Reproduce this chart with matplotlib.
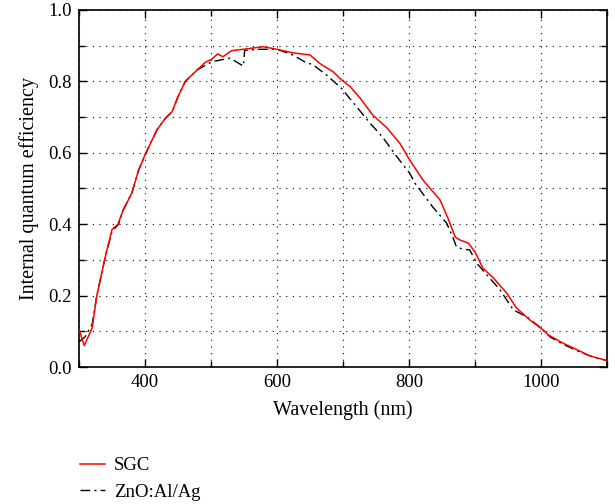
import matplotlib
matplotlib.use("Agg")
import matplotlib.pyplot as plt
from matplotlib.ticker import MultipleLocator

plt.rcParams['font.family'] = ['Liberation Serif', 'DejaVu Serif']

sgc_x = [300, 308, 320, 327, 340, 350, 359, 367, 380, 390, 400, 418, 431, 441, 450,
         461, 479, 491, 501, 510, 518, 531, 549, 579, 600, 624, 650, 665, 685, 698,
         711, 726, 745, 767, 786, 801, 821, 847, 859, 870, 877, 890, 900, 912, 928,
         948, 963, 983, 1003, 1011, 1033, 1055, 1074, 1100]
sgc_y = [0.105, 0.06, 0.11, 0.20, 0.31, 0.385, 0.40, 0.44, 0.487, 0.55, 0.594, 0.664,
         0.697, 0.715, 0.757, 0.80, 0.832, 0.853, 0.862, 0.877, 0.869, 0.886, 0.89,
         0.897, 0.89, 0.88, 0.874, 0.85, 0.827, 0.804, 0.785, 0.753, 0.706, 0.669,
         0.627, 0.58, 0.524, 0.468, 0.417, 0.364, 0.356, 0.347, 0.322, 0.277, 0.249,
         0.207, 0.165, 0.132, 0.104, 0.09, 0.067, 0.048, 0.031, 0.018]

zno_x = [300, 309, 320, 327, 340, 350, 360, 367, 380, 390, 400, 418, 431, 441, 450,
         461, 479, 501, 529, 549, 551, 574, 600, 624, 642, 655, 675, 698, 721, 741,
         760, 782, 801, 809, 836, 857, 867, 872, 882, 892, 903, 918, 938, 958, 979,
         998, 1014, 1033, 1059, 1079, 1100]
zno_y = [0.07, 0.084, 0.12, 0.20, 0.31, 0.38, 0.40, 0.44, 0.487, 0.55, 0.594, 0.664,
         0.697, 0.715, 0.757, 0.80, 0.832, 0.855, 0.865, 0.843, 0.887, 0.89, 0.89,
         0.874, 0.855, 0.846, 0.818, 0.78, 0.728, 0.683, 0.644, 0.588, 0.543, 0.515,
         0.448, 0.403, 0.361, 0.336, 0.33, 0.328, 0.29, 0.258, 0.216, 0.16, 0.14,
         0.112, 0.084, 0.064, 0.042, 0.028, 0.018]

FS = 13.5
LFS = 14.5

fig = plt.figure(figsize=(6.15, 5.04), dpi=100)
ax = fig.add_axes([79/615, 1-367/504, (607-79)/615, (367-10)/504])

ax.plot(sgc_x, sgc_y, color='#ff0000', lw=1.1, label='SGC', zorder=3)
ax.plot(zno_x, zno_y, color='black', lw=1.0, linestyle=(0, (7, 3, 1.5, 3)),
        label='ZnO:Al/Ag', zorder=2)

ax.set_xlim(300, 1100)
ax.set_ylim(0, 1.0)
ax.xaxis.set_major_locator(MultipleLocator(200))
ax.xaxis.set_minor_locator(MultipleLocator(100))
ax.yaxis.set_major_locator(MultipleLocator(0.2))
ax.yaxis.set_minor_locator(MultipleLocator(0.1))
ax.yaxis.set_major_formatter(plt.FuncFormatter(lambda v, p: f"{v:.1f}"))
ax.grid(True, which='both', color='black', linestyle=(0, (1, 5)), lw=0.8)
ax.tick_params(which='major', direction='in', top=True, right=True, length=6,
               width=1, labelsize=FS, pad=5)
ax.tick_params(which='minor', direction='in', top=True, right=True, length=4,
               width=1)
for s in ax.spines.values():
    s.set_linewidth(1.2)
ax.set_xlabel('Wavelength (nm)', fontsize=LFS, labelpad=7)
ax.set_ylabel('Internal quantum efficiency', fontsize=LFS, labelpad=7)

fig.legend(loc='upper left', bbox_to_anchor=(80/615, 1-457/504), frameon=False,
           fontsize=FS, handlelength=1.35, labelspacing=0.5, handletextpad=0.45,
           borderpad=0, borderaxespad=0)

fig.savefig('out.png', dpi=100)
